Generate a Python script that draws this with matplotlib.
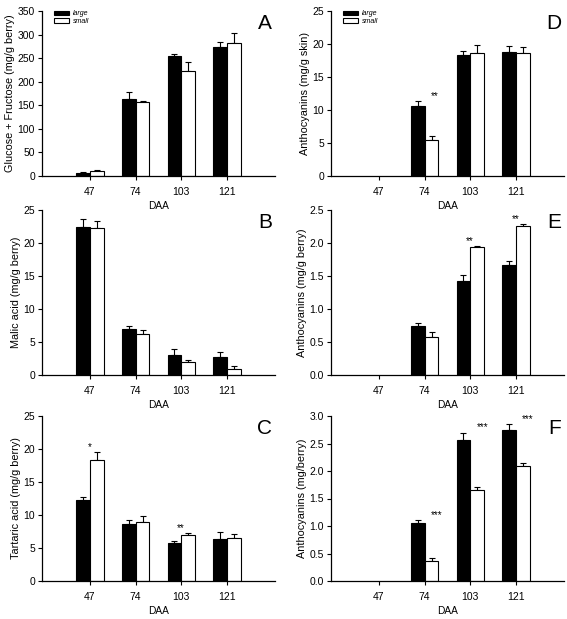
import matplotlib
matplotlib.use("Agg")
import matplotlib.pyplot as plt
import numpy as np

plt.rcParams['font.family'] = ['Liberation Sans', 'DejaVu Sans']

categories = ["47", "74", "103", "121"]

# Panel A: Glucose + Fructose
a_large = [7, 163, 255, 273]
a_large_err = [1, 15, 4, 12]
a_small = [10, 158, 222, 283]
a_small_err = [2, 2, 19, 21]

# Panel B: Malic acid
b_large = [22.4, 7.0, 3.0, 2.8]
b_large_err = [1.3, 0.4, 0.9, 0.7]
b_small = [22.2, 6.2, 1.9, 0.9]
b_small_err = [1.2, 0.6, 0.4, 0.5]

# Panel C: Tartaric acid
c_large = [12.3, 8.7, 5.7, 6.4]
c_large_err = [0.4, 0.6, 0.4, 1.1]
c_small = [18.4, 9.0, 7.0, 6.5]
c_small_err = [1.2, 0.8, 0.2, 0.6]

# Panel D: Anthocyanins (mg/g skin)
d_large = [0, 10.6, 18.4, 18.8]
d_large_err = [0, 0.7, 0.5, 0.9]
d_small = [0, 5.4, 18.7, 18.6]
d_small_err = [0, 0.6, 1.2, 0.9]

# Panel E: Anthocyanins (mg/g berry)
e_large = [0, 0.75, 1.42, 1.67]
e_large_err = [0, 0.04, 0.10, 0.06]
e_small = [0, 0.58, 1.94, 2.26]
e_small_err = [0, 0.07, 0.02, 0.03]

# Panel F: Anthocyanins (mg/berry)
f_large = [0, 1.05, 2.56, 2.75]
f_large_err = [0, 0.06, 0.14, 0.10]
f_small = [0, 0.37, 1.65, 2.09]
f_small_err = [0, 0.05, 0.06, 0.06]

panels = [
    dict(letter="A", large=a_large, le=a_large_err, small=a_small, se=a_small_err,
         ylabel="Glucose + Fructose (mg/g berry)", ylim=350, step=50, fmt="{:.0f}",
         legend=True, sig=[]),
    dict(letter="B", large=b_large, le=b_large_err, small=b_small, se=b_small_err,
         ylabel="Malic acid (mg/g berry)", ylim=25, step=5, fmt="{:.0f}",
         legend=False, sig=[]),
    dict(letter="C", large=c_large, le=c_large_err, small=c_small, se=c_small_err,
         ylabel="Tartaric acid (mg/g berry)", ylim=25, step=5, fmt="{:.0f}",
         legend=False, sig=[(0, "*", "small"), (2, "**", "small")]),
    dict(letter="D", large=d_large, le=d_large_err, small=d_small, se=d_small_err,
         ylabel="Anthocyanins (mg/g skin)", ylim=25, step=5, fmt="{:.0f}",
         legend=True, sig=[(1, "**", "large")]),
    dict(letter="E", large=e_large, le=e_large_err, small=e_small, se=e_small_err,
         ylabel="Anthocyanins (mg/g berry)", ylim=2.5, step=0.5, fmt="{:.1f}",
         legend=False, sig=[(2, "**", "small"), (3, "**", "small")]),
    dict(letter="F", large=f_large, le=f_large_err, small=f_small, se=f_small_err,
         ylabel="Anthocyanins (mg/berry)", ylim=3.0, step=0.5, fmt="{:.1f}",
         legend=False, sig=[(1, "***", "large"), (2, "***", "large"), (3, "***", "large")]),
]

fig = plt.figure(figsize=(5.67, 6.19), dpi=100)
W, H = 567, 619
lefts = [42, 331]
tops = [11, 210, 416]
aw, ah = 233, 165

x = np.arange(len(categories))
bw = 0.3

for i, p in enumerate(panels):
    col = i // 3
    row = i % 3
    l = lefts[col]
    t = tops[row]
    ax = fig.add_axes([l / W, 1 - (t + ah) / H, aw / W, ah / H])
    ekw = dict(elinewidth=0.8, capsize=2.5, capthick=0.8, ecolor="black")

    lg = np.array(p["large"], dtype=float)
    sm = np.array(p["small"], dtype=float)
    lerr = np.array(p["le"], dtype=float)
    serr = np.array(p["se"], dtype=float)
    ml = lg > 0
    ms = sm > 0

    bl = ax.bar(x[ml] - bw / 2, lg[ml], bw, color="black", edgecolor="black",
                linewidth=0.8, label="large", zorder=2)
    ax.errorbar(x[ml] - bw / 2, lg[ml], yerr=[np.zeros(ml.sum()), lerr[ml]],
                fmt="none", zorder=1, **ekw)
    bs = ax.bar(x[ms] + bw / 2, sm[ms], bw, color="white", edgecolor="black",
                linewidth=0.8, label="small", zorder=2)
    ax.errorbar(x[ms] + bw / 2, sm[ms], yerr=[np.zeros(ms.sum()), serr[ms]],
                fmt="none", zorder=1, **ekw)

    ax.set_xlim(-1.05, 4.05)
    ax.set_ylim(0, p["ylim"])
    yt = np.arange(0, p["ylim"] + p["step"] / 2, p["step"])
    ax.set_yticks(yt)
    ax.set_yticklabels([p["fmt"].format(v) for v in yt])
    ax.set_xticks(x)
    ax.set_xticklabels(categories)
    for s in ["top", "right"]:
        ax.spines[s].set_visible(False)
    for s in ["left", "bottom"]:
        ax.spines[s].set_linewidth(0.9)
    ax.tick_params(axis="both", direction="out", length=3, width=0.8,
                   labelsize=7.5, pad=2)
    ax.tick_params(axis="x", pad=5)
    ax.set_ylabel(p["ylabel"], fontsize=7.8, labelpad=2)
    ax.set_xlabel("DAA", fontsize=7.3, labelpad=3)

    fig.text((l + aw - 3) / W, 1 - (t + 3) / H, p["letter"], fontsize=15,
             ha="right", va="top")

    if p["legend"]:
        ax.legend(handles=[bl, bs], labels=["large", "small"], loc="upper left",
                  bbox_to_anchor=(0.04, 1.02), frameon=False,
                  prop=dict(size=5, style="italic"), handlelength=2.2,
                  handleheight=0.7, labelspacing=0.1, handletextpad=0.5,
                  borderaxespad=0)

    for (k, txt, which) in p["sig"]:
        if which == "large":
            xs = x[k] - bw / 2 + bw * 0.95
            ys = p["large"][k] + p["le"][k]
            ha = "left"
        else:
            xs = x[k] + bw / 2 - bw * 0.55
            ys = p["small"][k] + p["se"][k]
            ha = "center"
        ax.text(xs, ys, txt, fontsize=7, ha=ha, va="bottom")

fig.savefig("out.png", dpi=100)
